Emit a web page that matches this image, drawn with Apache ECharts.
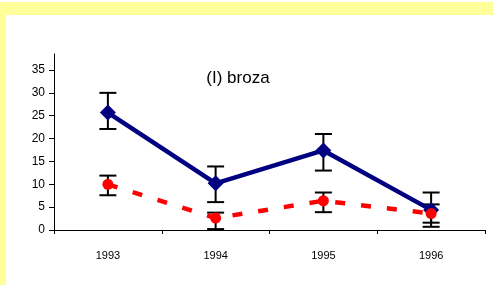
<!DOCTYPE html>
<html>
<head>
<meta charset="utf-8">
<script src="https://cdn.jsdelivr.net/npm/echarts@6/dist/echarts.min.js"></script>
<style>
  html, body { margin: 0; padding: 0; background: #fff; }
  #wrap { position: relative; width: 493px; height: 285px; overflow: hidden; }
  .band { position: absolute; background: #ffff99; }
  #chart { position: absolute; left: 0; top: 0; width: 493px; height: 285px; }
</style>
</head>
<body>
<div id="wrap">
  <div class="band" style="left:0;top:2px;width:493px;height:13px;"></div>
  <div class="band" style="left:0;top:2px;width:6px;height:283px;"></div>
  <div id="chart"></div>
</div>
<script>
const years = ["1993", "1994", "1995", "1996"];
const yTicks = [0, 5, 10, 15, 20, 25, 30, 35];

// seria niebieska (romby) i jej słupki błędów
const blueVals = [25.7, 10.2, 17.4, 4.4];
const blueHigh = [30.0, 13.9, 21.0, 8.2];
const blueLow = [22.1, 6.1, 13.0, 0.7];

// seria czerwona (kółka, linia przerywana)
const redVals = [10.0, 2.6, 6.4, 3.6];
const redHigh = [11.9, 3.8, 8.2, 5.6];
const redLow = [7.6, 0.2, 3.9, 1.6];

function errorData(high, low) {
  let out = [];
  for (let i = 0; i < high.length; i++) {
    out.push([i, low[i], high[i]]);
  }
  return out;
}

function renderError(params, api) {
  let x = api.value(0);
  let lo = api.coord([x, api.value(1)]);
  let hi = api.coord([x, api.value(2)]);
  let w = 8.5;
  let style = { stroke: "#000", lineWidth: 2 };
  return {
    type: "group",
    children: [
      { type: "line", shape: { x1: hi[0], y1: hi[1], x2: lo[0], y2: lo[1] }, style: style },
      { type: "line", shape: { x1: hi[0] - w, y1: hi[1], x2: hi[0] + w, y2: hi[1] }, style: style },
      { type: "line", shape: { x1: lo[0] - w, y1: lo[1], x2: lo[0] + w, y2: lo[1] }, style: style },
    ],
  };
}

let myChart = echarts.init(document.getElementById("chart"), null, { renderer: "canvas" });
myChart.setOption({
  animation: false,
  textStyle: { fontFamily: "Liberation Sans, Arial, sans-serif" },
  title: {
    text: "(I) broza",
    left: 233,
    top: 65,
    textAlign: "center",
    textStyle: { fontSize: 17, fontWeight: "normal", color: "#000", fontFamily: "Liberation Sans, Arial, sans-serif" },
  },
  grid: { left: 54, right: 8, top: 54, bottom: 55 },
  xAxis: {
    type: "category",
    data: years,
    boundaryGap: true,
    axisLine: { lineStyle: { color: "#000", width: 1 } },
    axisTick: { show: true, length: 4, alignWithLabel: false, lineStyle: { color: "#000" } },
    axisLabel: { color: "#000", fontSize: 11, margin: 20 },
    splitLine: { show: false },
  },
  yAxis: {
    type: "value",
    min: 0,
    max: 38.5,
    interval: 5,
    axisLine: { show: true, lineStyle: { color: "#000", width: 1 } },
    axisTick: { show: true, length: 5, lineStyle: { color: "#000" } },
    axisLabel: {
      color: "#000",
      fontSize: 12,
      margin: 9,
      showMaxLabel: false,
      formatter: function (v) {
        return yTicks.indexOf(v) >= 0 ? String(v) : "";
      },
    },
    splitLine: { show: false },
  },
  series: [
    {
      type: "custom",
      data: errorData(blueHigh, blueLow),
      renderItem: renderError,
      z: 1,
    },
    {
      type: "custom",
      data: errorData(redHigh, redLow),
      renderItem: renderError,
      z: 1,
    },
    {
      type: "line",
      data: redVals,
      symbol: "circle",
      symbolSize: 11,
      itemStyle: { color: "#ff0000" },
      lineStyle: { color: "#ff0000", width: 4.5, type: [10, 16], cap: "butt" },
      z: 3,
    },
    {
      type: "line",
      data: blueVals,
      symbol: "diamond",
      symbolSize: 16,
      itemStyle: { color: "#000080" },
      lineStyle: { color: "#000080", width: 4.5 },
      z: 2,
    },
  ],
});
</script>
</body>
</html>
